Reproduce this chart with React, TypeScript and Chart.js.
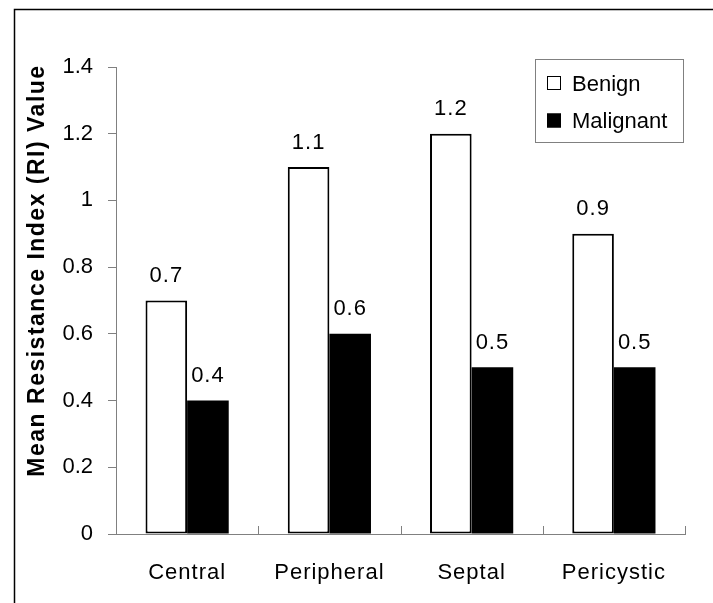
import React, { useEffect, useRef } from "react";
import { Chart, registerables } from "chart.js";

Chart.register(...registerables);

const categories = ["Central", "Peripheral", "Septal", "Pericystic"];
const benign = [0.7, 1.1, 1.2, 0.9];
const malignant = [0.4, 0.6, 0.5, 0.5];
const seriesNames = ["Benign", "Malignant"];
const yTicks = [0, 0.2, 0.4, 0.6, 0.8, 1, 1.2, 1.4];
const yTitle = "Mean Resistance Index (RI) Value";

const FONT = '"Liberation Sans", Arial, Helvetica, sans-serif';
const AXIS_GRAY = "#808080";

const decor = {
  id: "decor",
  beforeDraw(chart: any) {
    const ctx = chart.ctx;
    ctx.save();
    ctx.fillStyle = "#ffffff";
    ctx.fillRect(0, 0, chart.width, chart.height);
    ctx.strokeStyle = "#000000";
    ctx.lineWidth = 1.5;
    ctx.beginPath();
    ctx.moveTo(14.5, chart.height);
    ctx.lineTo(14.5, 9.5);
    ctx.lineTo(chart.width, 9.5);
    ctx.stroke();
    ctx.restore();
  },
  afterDraw(chart: any) {
    const ctx = chart.ctx;
    const xs = chart.scales.x;
    const area = chart.chartArea;
    ctx.save();

    // inward tick marks at category boundaries on x axis
    ctx.strokeStyle = AXIS_GRAY;
    ctx.lineWidth = 1;
    const bounds: number[] = [xs.left];
    for (let i = 1; i < categories.length; i++) {
      bounds.push((xs.getPixelForValue(i - 1) + xs.getPixelForValue(i)) / 2);
    }
    bounds.push(xs.right);
    ctx.beginPath();
    bounds.forEach((bx) => {
      const px = Math.round(bx) + 0.5;
      ctx.moveTo(px, area.bottom - 8);
      ctx.lineTo(px, area.bottom);
    });
    ctx.stroke();

    // category labels
    ctx.fillStyle = "#000000";
    ctx.font = `22px ${FONT}`;
    (ctx as any).letterSpacing = "1px";
    ctx.textAlign = "center";
    ctx.textBaseline = "alphabetic";
    categories.forEach((c, i) => {
      ctx.fillText(c, xs.getPixelForValue(i), area.bottom + 44.5);
    });

    // value labels above bars
    chart.data.datasets.forEach((ds: any, d: number) => {
      const meta = chart.getDatasetMeta(d);
      meta.data.forEach((el: any, i: number) => {
        const v = ds.data[i] as number;
        ctx.fillText(v.toFixed(1), el.x, el.y - 18.5);
      });
    });
    (ctx as any).letterSpacing = "0px";

    // legend
    const lx = 535.5, ly = 59.5, lw = 148, lh = 83;
    ctx.strokeStyle = AXIS_GRAY;
    ctx.lineWidth = 1;
    ctx.strokeRect(lx, ly, lw, lh);
    ctx.textAlign = "left";
    ctx.font = `22px ${FONT}`;
    const baselines = [90.5, 128];
    chart.data.datasets.forEach((ds: any, d: number) => {
      const b = baselines[d];
      const sx = 547, sy = b - 14.5, ss = 14;
      ctx.fillStyle = ds.backgroundColor;
      ctx.fillRect(sx, sy, ss, ss);
      ctx.strokeStyle = "#000000";
      ctx.lineWidth = 1;
      ctx.strokeRect(sx + 0.5, sy + 0.5, ss - 1, ss - 1);
      ctx.fillStyle = "#000000";
      ctx.fillText(ds.label, 572, b);
    });

    // y axis title
    ctx.save();
    ctx.translate(43.5, 270.5);
    ctx.rotate(-Math.PI / 2);
    ctx.font = `bold 23px ${FONT}`;
    (ctx as any).letterSpacing = "1.5px";
    ctx.textAlign = "center";
    ctx.textBaseline = "alphabetic";
    ctx.fillStyle = "#000000";
    ctx.fillText(yTitle, 0, 0);
    ctx.restore();

    ctx.restore();
  },
};

export default function App() {
  const ref = useRef<HTMLCanvasElement | null>(null);

  useEffect(() => {
    if (!ref.current) return;
    const chart = new Chart(ref.current, {
      type: "bar",
      data: {
        labels: categories,
        datasets: [
          {
            label: seriesNames[0],
            data: benign,
            backgroundColor: "#ffffff",
            borderColor: "#000000",
            borderWidth: 2,
            borderSkipped: false,
            categoryPercentage: 0.585,
            barPercentage: 1.0,
          },
          {
            label: seriesNames[1],
            data: malignant,
            backgroundColor: "#000000",
            borderColor: "#000000",
            borderWidth: 0,
            borderSkipped: false,
            categoryPercentage: 0.585,
            barPercentage: 1.0,
          },
        ],
      },
      options: {
        responsive: false,
        animation: false,
        devicePixelRatio: 1,
        layout: { padding: { left: 0, top: 67, right: 28, bottom: 0 } },
        plugins: {
          legend: { display: false },
          tooltip: { enabled: false },
          title: { display: false },
        },
        scales: {
          x: {
            type: "category",
            grid: { display: false },
            border: { display: true, color: AXIS_GRAY, width: 1 },
            ticks: { display: false },
            afterFit: (s: any) => {
              s.height = 69;
            },
          },
          y: {
            type: "linear",
            min: 0,
            max: 1.4,
            afterBuildTicks: (s: any) => {
              s.ticks = yTicks.map((v) => ({ value: v }));
            },
            grid: {
              display: true,
              drawOnChartArea: false,
              drawTicks: true,
              tickLength: 8,
              color: AXIS_GRAY,
              lineWidth: 1,
            },
            border: { display: true, color: AXIS_GRAY, width: 1 },
            ticks: {
              color: "#000000",
              padding: 15,
              font: { family: FONT, size: 22 },
              callback: (v: any) => String(Math.round(Number(v) * 10) / 10),
            },
            afterFit: (s: any) => {
              s.width = 116;
            },
          },
        },
      },
      plugins: [decor],
    });
    return () => chart.destroy();
  }, []);

  return (
    <div style={{ position: "fixed", left: 0, top: 0, width: 713, height: 603, background: "#fff" }}>
      <canvas ref={ref} width={713} height={603} style={{ display: "block", width: 713, height: 603 }} />
    </div>
  );
}
